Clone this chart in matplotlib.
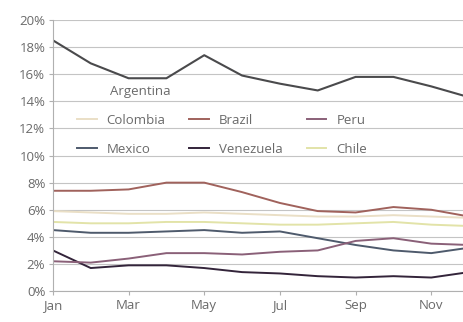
import matplotlib
matplotlib.use("Agg")
import matplotlib.pyplot as plt

months = ["Jan", "Feb", "Mar", "Apr", "May", "Jun",
          "Jul", "Aug", "Sep", "Oct", "Nov", "Dec"]
tick_months = ["Jan", "Mar", "May", "Jul", "Sep", "Nov"]
y_ticks = [0, 2, 4, 6, 8, 10, 12, 14, 16, 18, 20]

# inflation, %
argentina = [18.5, 16.8, 15.7, 15.7, 17.4, 15.9, 15.3, 14.8, 15.8, 15.8, 15.1, 14.3]
brazil = [7.4, 7.4, 7.5, 8.0, 8.0, 7.3, 6.5, 5.9, 5.8, 6.2, 6.0, 5.5]
colombia = [5.9, 5.8, 5.7, 5.7, 5.8, 5.7, 5.6, 5.5, 5.5, 5.6, 5.5, 5.4]
chile = [5.1, 5.0, 5.0, 5.1, 5.1, 5.0, 4.9, 4.9, 5.0, 5.1, 4.9, 4.8]
mexico = [4.5, 4.3, 4.3, 4.4, 4.5, 4.3, 4.4, 3.9, 3.4, 3.0, 2.8, 3.2]
peru = [2.2, 2.1, 2.4, 2.8, 2.8, 2.7, 2.9, 3.0, 3.7, 3.9, 3.5, 3.4]
venezuela = [3.0, 1.7, 1.9, 1.9, 1.7, 1.4, 1.3, 1.1, 1.0, 1.1, 1.0, 1.4]

colors = {
    "Argentina": "#4a4a4c",
    "Colombia": "#eadfc6",
    "Brazil": "#a0625c",
    "Peru": "#8a6078",
    "Mexico": "#4e5a6c",
    "Venezuela": "#33243a",
    "Chile": "#e2e3a8",
}

plt.rcParams['font.family'] = ['Open Sans', 'DejaVu Sans']
text_color = "#6a6a6a"

fig = plt.figure(figsize=(4.64, 3.22), dpi=100)
fig.patch.set_facecolor('white')
ax = fig.add_axes([0.114, 0.096, 0.897, 0.842])

x = list(range(len(months)))
series = [("Colombia", colombia), ("Mexico", mexico), ("Brazil", brazil),
          ("Venezuela", venezuela), ("Peru", peru), ("Chile", chile)]
for name, vals in series:
    ax.plot(x, vals, color=colors[name], lw=1.4, label=name)
ax.plot(x, argentina, color=colors["Argentina"], lw=1.5)
ax.text(1.5, 14.7, "Argentina", fontsize=9.5, color=text_color,
        ha='left', va='center')

ax.set_xlim(0, 11)
ax.set_ylim(0, 20)
ax.set_yticks(y_ticks)
ax.set_yticklabels([f"{v}%" for v in y_ticks])
ax.set_xticks([months.index(m) for m in tick_months])
ax.set_xticklabels(tick_months)
ax.grid(axis='y', color="#c4c4c4", lw=0.8)
ax.set_axisbelow(True)
for side in ['top', 'right']:
    ax.spines[side].set_visible(False)
ax.spines['left'].set_color("#b0b0b0")
ax.spines['bottom'].set_color("#b0b0b0")
ax.tick_params(colors="#b0b0b0", labelcolor=text_color, labelsize=9.5,
               length=3, pad=2.5)

ax.legend(ncol=3, frameon=False, loc='upper left',
          bbox_to_anchor=(0.058, 0.655), fontsize=9.5, labelcolor=text_color,
          borderaxespad=0, borderpad=0,
          handlelength=1.5, handletextpad=0.75, columnspacing=1.8,
          labelspacing=1.25)

fig.savefig("out.png", dpi=100, facecolor='white')
